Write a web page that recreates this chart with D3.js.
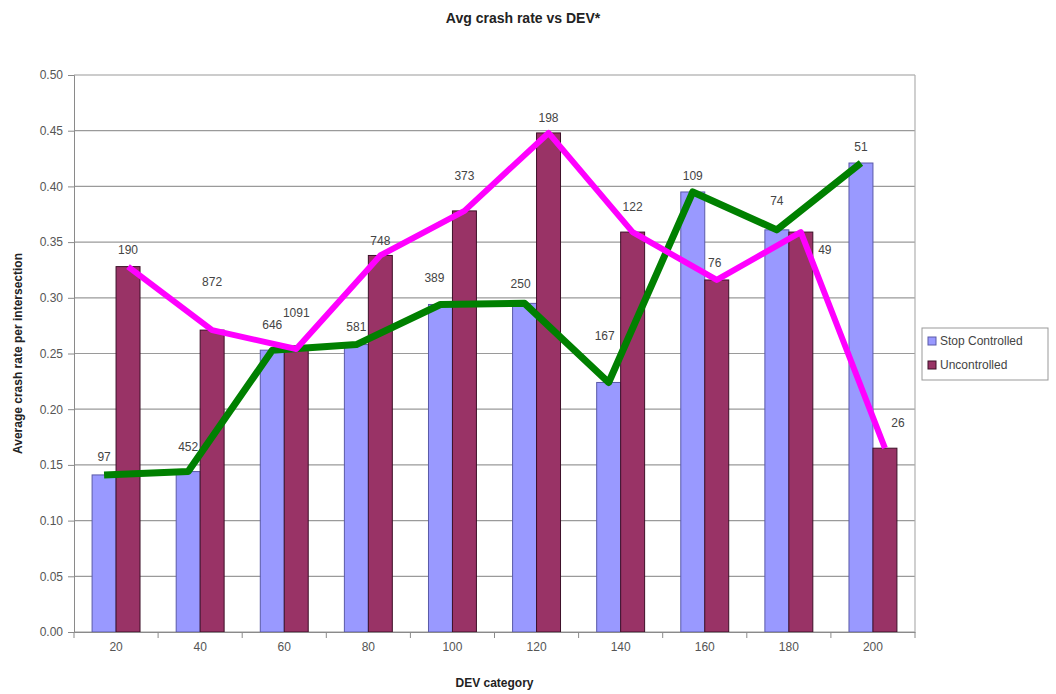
<!DOCTYPE html>
<html>
<head>
<meta charset="utf-8">
<script src="https://cdn.jsdelivr.net/npm/d3@7/dist/d3.min.js"></script>
<style>
	body { margin: 0; background: #fff; }
	text { font-family: Arial, "Liberation Sans", sans-serif; }
</style>
</head>
<body>
<svg id="chart" width="1056" height="694"></svg>
<script>
// categories (DEV) and values
var categories = ["20", "40", "60", "80", "100", "120", "140", "160", "180", "200"];
var stopControlled = [0.141, 0.144, 0.253, 0.258, 0.294, 0.295, 0.224, 0.395, 0.361, 0.421];
var uncontrolled   = [0.328, 0.271, 0.254, 0.338, 0.378, 0.448, 0.359, 0.316, 0.359, 0.165];
// number of intersections, shown as labels
var stopCounts  = [97, 452, 646, 581, 389, 250, 167, 109, 74, 51];
var unconCounts = [190, 872, 1091, 748, 373, 198, 122, 76, 49, 26];
var yTicks = [0, 0.05, 0.10, 0.15, 0.20, 0.25, 0.30, 0.35, 0.40, 0.45, 0.50];

var series = [
	{ name: "Stop Controlled", values: stopControlled, counts: stopCounts, fill: "#9999ff", stroke: "#5a5aa8", line: "#008000" },
	{ name: "Uncontrolled", values: uncontrolled, counts: unconCounts, fill: "#993366", stroke: "#3d1028", line: "#ff00ff" }
];

// label nudges (px) where the original labels sit off the default spot
var labelLift = [
	[18, 25, 25, 18, 27, 20, 47, 16, 29, 16],
	[17, 48, 36, 15, 35, 15, 25, 17, -18, 25]
];
var labelSide = [
	[0, 0, 0, 0, -6, -4, -4, 0, 0, 0],
	[0, 0, 0, 0, 0, 0, 0, -2, 24, 13]
];

var svg = d3.select("#chart");
var margin = {top: 75, right: 141, bottom: 62, left: 74},
	width = 1056 - margin.left - margin.right,
	height = 694 - margin.top - margin.bottom;

var x0 = d3.scaleBand().domain(categories).range([0, width]).paddingInner(0.43).paddingOuter(0.215);
var x1 = d3.scaleBand().domain([0, 1]).range([0, x0.bandwidth()]);
var y = d3.scaleLinear().domain([0, 0.5]).range([height, 0]);

var g = svg.append("g").attr("transform", "translate(" + margin.left + "," + margin.top + ")");

// gridlines
g.selectAll(".grid")
	.data(yTicks)
	.enter().append("line")
	.attr("x1", 0).attr("x2", width)
	.attr("y1", function(d) { return y(d); })
	.attr("y2", function(d) { return y(d); })
	.attr("stroke", "#9a9a9a").attr("stroke-width", 1.2);

// right border of plot area
g.append("line").attr("x1", width).attr("x2", width).attr("y1", 0).attr("y2", height)
	.attr("stroke", "#b0b0b0").attr("stroke-width", 1.2);

// bars
series.forEach(function(s, si) {
	g.selectAll(".bar" + si)
		.data(s.values)
		.enter().append("rect")
		.attr("x", function(d, i) { return x0(categories[i]) + x1(si); })
		.attr("y", function(d) { return y(d); })
		.attr("width", x1.bandwidth())
		.attr("height", function(d) { return height - y(d); })
		.attr("fill", s.fill)
		.attr("stroke", s.stroke)
		.attr("stroke-width", 1);
});

// lines through the bar tops
series.forEach(function(s, si) {
	var line = d3.line()
		.x(function(d, i) { return x0(categories[i]) + x1(si) + x1.bandwidth() / 2; })
		.y(function(d) { return y(d); });
	g.append("path")
		.datum(s.values)
		.attr("d", line)
		.attr("fill", "none")
		.attr("stroke", s.line)
		.attr("stroke-width", si === 0 ? 7 : 6)
		.attr("stroke-linejoin", "round");
});

// count labels
series.forEach(function(s, si) {
	g.selectAll(".lbl" + si)
		.data(s.counts)
		.enter().append("text")
		.attr("x", function(d, i) { return x0(categories[i]) + x1(si) + x1.bandwidth() / 2 + labelSide[si][i]; })
		.attr("y", function(d, i) { return y(s.values[i]) - labelLift[si][i]; })
		.attr("dy", "0.35em")
		.attr("text-anchor", "middle")
		.attr("font-size", 12)
		.attr("fill", "#444")
		.text(function(d) { return d; });
});

// y axis
var yAxis = g.append("g")
	.call(d3.axisLeft(y).tickValues(yTicks).tickFormat(d3.format(".2f")).tickSize(6).tickPadding(5));
yAxis.selectAll("line, path").attr("stroke", "#8a8a8a");
yAxis.selectAll("text").attr("font-size", 12).attr("fill", "#555").style("font-family", "Arial, 'Liberation Sans', sans-serif");

// x axis
var xAxis = g.append("g")
	.attr("transform", "translate(0," + height + ")")
	.call(d3.axisBottom(x0).tickSize(0).tickPadding(10));
xAxis.select("path").attr("stroke", "#8a8a8a");
xAxis.selectAll("text").attr("font-size", 12).attr("fill", "#555").style("font-family", "Arial, 'Liberation Sans', sans-serif");

// tick marks between categories
var bounds = categories.map(function(c) { return x0(c) + x0.bandwidth() / 2 + x0.step() / 2; });
bounds.unshift(x0(categories[0]) + x0.bandwidth() / 2 - x0.step() / 2);
g.selectAll(".xtick")
	.data(bounds)
	.enter().append("line")
	.attr("x1", function(d) { return d; }).attr("x2", function(d) { return d; })
	.attr("y1", height).attr("y2", height + 6)
	.attr("stroke", "#8a8a8a");

// titles
svg.append("text")
	.attr("x", 523).attr("y", 23)
	.attr("text-anchor", "middle")
	.attr("font-size", 14).attr("font-weight", "bold").attr("fill", "#222")
	.text("Avg crash rate vs DEV*");

svg.append("text")
	.attr("transform", "translate(22," + (margin.top + height / 2) + ") rotate(-90)")
	.attr("text-anchor", "middle")
	.attr("font-size", 12).attr("font-weight", "bold").attr("fill", "#222")
	.text("Average crash rate per intersection");

svg.append("text")
	.attr("x", margin.left + width / 2).attr("y", 687)
	.attr("text-anchor", "middle")
	.attr("font-size", 12).attr("font-weight", "bold").attr("fill", "#222")
	.text("DEV category");

// legend
var legend = svg.append("g").attr("transform", "translate(922,328)");
legend.append("rect")
	.attr("width", 126).attr("height", 52)
	.attr("fill", "#fff").attr("stroke", "#999");
series.forEach(function(s, si) {
	legend.append("rect")
		.attr("x", 6).attr("y", 9 + si * 24)
		.attr("width", 8).attr("height", 8)
		.attr("fill", s.fill).attr("stroke", s.stroke);
	legend.append("text")
		.attr("x", 18).attr("y", 13 + si * 24)
		.attr("dy", "0.35em")
		.attr("font-size", 12).attr("fill", "#444")
		.text(s.name);
});
</script>
</body>
</html>
